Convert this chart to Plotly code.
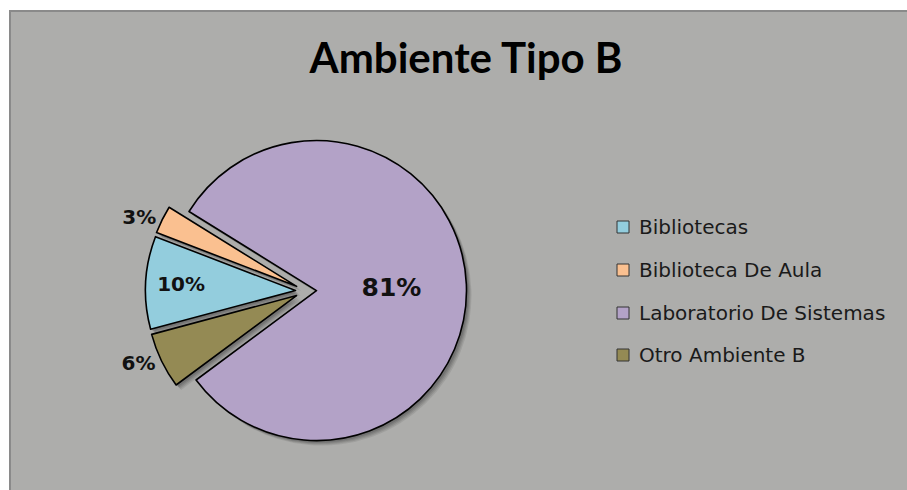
import plotly.graph_objects as go

# Data
labels = ["Bibliotecas", "Biblioteca De Aula", "Laboratorio De Sistemas", "Otro Ambiente B"]
values = [10, 3, 81, 6]
colors = ["#93CDDD", "#FAC090", "#B3A2C7", "#948A54"]
text_positions = ["inside", "outside", "inside", "outside"]
text_sizes = [20, 20, 25, 20]

W, H = 907, 490
BG = "#ADADAB"

# Pie placement (pixels)
cx, cy = 306, 291
pull = 0.07
radius = 150
half = radius * (1 + pull)


def dom(cx_px, cy_px):
    return dict(
        x=[(cx_px - half) / W, (cx_px + half) / W],
        y=[(H - cy_px - half) / H, (H - cy_px + half) / H],
    )


fig = go.Figure()

# soft drop shadow under the slices
for off, alpha in [(5, 0.10), (4, 0.12), (3, 0.14), (2, 0.16)]:
    fig.add_trace(go.Pie(
        labels=labels, values=values, sort=False, direction="clockwise",
        rotation=255, pull=pull, domain=dom(cx + off, cy + off),
        marker=dict(colors=[f"rgba(40,40,40,{alpha})"] * len(values), line=dict(width=0)),
        textinfo="none", hoverinfo="skip", showlegend=False,
    ))

fig.add_trace(go.Pie(
    labels=labels, values=values, sort=False, direction="clockwise",
    rotation=255, pull=pull, domain=dom(cx, cy),
    marker=dict(colors=colors, line=dict(color="#000000", width=1.6)),
    texttemplate="%{value}%", textposition=text_positions,
    insidetextorientation="horizontal",
    textfont=dict(family="DejaVu Sans", size=text_sizes, color="#111111", weight="bold"),
    showlegend=False,
))

# white page margin at top/left and the chart-area border
frame = [
    dict(type="rect", xref="paper", yref="paper", x0=0, x1=1, y0=1 - 10 / H, y1=1,
         fillcolor="white", line=dict(width=0)),
    dict(type="rect", xref="paper", yref="paper", x0=0, x1=9 / W, y0=0, y1=1,
         fillcolor="white", line=dict(width=0)),
    dict(type="line", xref="paper", yref="paper", x0=9 / W, x1=1, y0=1 - 11 / H, y1=1 - 11 / H,
         line=dict(color="#8A8A8A", width=2)),
    dict(type="line", xref="paper", yref="paper", x0=10 / W, x1=10 / W, y0=0, y1=1 - 10 / H,
         line=dict(color="#8A8A8A", width=2)),
]

# Legend drawn as swatches + labels
legend_y = [227, 270, 313, 355]
legend_shapes = []
for lab, col, ly in zip(labels, colors, legend_y):
    legend_shapes.append(dict(type="rect", xref="paper", yref="paper",
                              x0=617 / W, x1=629 / W, y0=(H - ly - 6) / H, y1=(H - ly + 6) / H,
                              fillcolor=col, line=dict(color="#333333", width=1)))
    fig.add_annotation(xref="paper", yref="paper", x=637 / W, y=(H - ly) / H,
                       xanchor="left", yanchor="middle", showarrow=False, text=lab,
                       font=dict(family="DejaVu Sans", size=20, color="#1a1a1a"))

fig.update_layout(
    width=W, height=H,
    margin=dict(l=0, r=0, t=0, b=0),
    paper_bgcolor=BG,
    title=dict(text="<b>Ambiente Tipo B</b>", x=466 / W, xanchor="center",
               y=1 - 58 / H, yanchor="middle",
               font=dict(family="Lato", size=42, color="#000000")),
    shapes=frame + legend_shapes,
)

fig.write_html("out.html")
